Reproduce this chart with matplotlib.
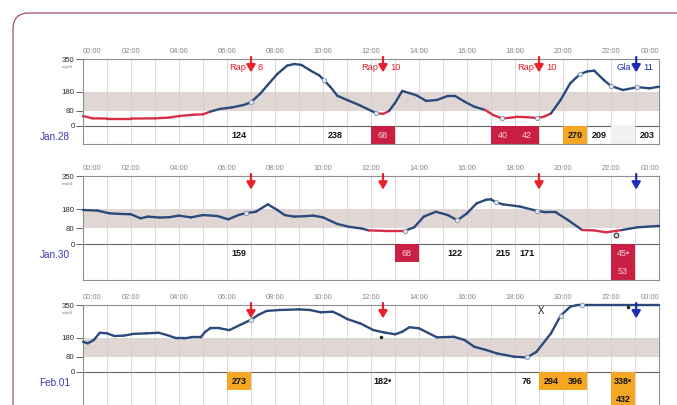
import matplotlib.pyplot as plt
import matplotlib.patches as mpatches
from matplotlib.collections import LineCollection
import numpy as np

plt.rcParams['font.family'] = ['Liberation Sans', 'DejaVu Sans']

W, H = 677, 405

# ---- sensor glucose traces (hour of day, mg/dL) ----
jan28_t = [0, 0.4, 1.0, 2.0, 3.0, 3.6, 4.0, 4.6, 5.0, 5.3, 5.7, 6.2, 6.7, 7.0, 7.4, 7.7,
           8.1, 8.5, 8.8, 9.1, 9.5, 9.85, 10.05, 10.3, 10.6, 11.0, 11.5, 12.2, 12.5, 12.75,
           13.0, 13.3, 13.6, 13.9, 14.3, 14.75, 15.2, 15.5, 15.9, 16.3, 16.75, 17.1, 17.45,
           17.8, 18.1, 18.5, 18.9, 19.2, 19.5, 19.9, 20.3, 20.7, 21.0, 21.3, 21.7, 22.0,
           22.5, 23.1, 23.6, 24.0]
jan28_bg = [52, 40, 39, 39, 40, 44, 52, 59, 61, 75, 89, 97, 110, 124, 171, 215,
            272, 315, 324, 319, 288, 264, 238, 205, 158, 136, 110, 68, 63, 78,
            120, 183, 172, 160, 131, 136, 157, 157, 127, 101, 84, 57, 40,
            43, 48, 46, 42, 48, 66, 136, 223, 270, 285, 289, 240, 209,
            188, 203, 197, 205]

jan30_t = [0, 0.6, 1.1, 1.5, 2.0, 2.4, 2.7, 3.2, 3.6, 4.0, 4.5, 5.0, 5.6, 6.05, 6.5, 6.8,
           7.2, 7.7, 8.1, 8.4, 8.8, 9.2, 9.6, 10.0, 10.6, 11.1, 11.6, 11.9, 12.5, 13.0,
           13.4, 13.8, 14.2, 14.7, 15.2, 15.6, 16.0, 16.4, 16.8, 17.0, 17.2, 17.5, 18.2,
           18.9, 19.3, 19.7, 20.2, 20.8, 21.3, 21.8, 22.45, 23.1, 24.0]
jan30_bg = [175, 172, 158, 155, 153, 132, 141, 136, 138, 146, 137, 149, 144, 127, 150, 159,
            166, 204, 175, 149, 141, 143, 146, 137, 103, 88, 80, 70, 68, 68,
            68, 86, 141, 166, 149, 122, 158, 209, 228, 230, 215, 204, 193,
            171, 163, 163, 124, 72, 70, 60, 72, 86, 93]

feb01_t = [0, 0.2, 0.45, 0.7, 1.0, 1.3, 1.7, 2.1, 2.65, 3.15, 3.5, 3.9, 4.2, 4.5, 4.9, 5.1,
           5.3, 5.7, 6.1, 6.55, 7.0, 7.3, 7.65, 8.2, 9.0, 9.45, 9.9, 10.4, 10.7, 11.0,
           11.55, 12.1, 12.6, 13.0, 13.3, 13.6, 14.0, 14.75, 15.45, 15.9, 16.3, 16.8,
           17.25, 17.95, 18.5, 18.9, 19.5, 19.9, 20.3, 20.6, 21.0, 22.0, 23.0, 24.0]
feb01_bg = [158, 150, 167, 205, 202, 188, 190, 199, 202, 205, 193, 176, 176, 181, 181, 211,
            228, 228, 219, 246, 273, 298, 319, 324, 327, 324, 312, 315, 298, 277,
            254, 219, 205, 197, 210, 234, 228, 181, 184, 167, 132, 115,
            97, 80, 76, 106, 202, 294, 341, 350, 350, 350, 350, 350]

# ---- meter readings shown as circles on the trace ----
jan28_smbg_t = [7.0, 10.05, 12.2, 17.45, 18.9, 20.7, 22.0, 23.1]
jan28_smbg_v = [124, 238, 68, 40, 42, 270, 209, 203]
jan30_smbg_t = [6.8, 13.4, 15.6, 17.2, 18.9]
jan30_smbg_v = [159, 68, 122, 215, 171]
feb01_smbg_t = [7.0, 18.5, 19.9, 20.8]
feb01_smbg_v = [273, 76, 294, 396]

# ---- table cells: (start hour, row, text, kind) ----
jan28_cells = [(6, 0, '124', ''), (10, 0, '238', ''), (12, 0, '68', 'low'),
               (17, 0, '40', 'low'), (18, 0, '42', 'low'), (20, 0, '270', 'high'),
               (21, 0, '209', ''), (22, 0, '', 'pale'), (23, 0, '203', '')]
jan30_cells = [(6, 0, '159', ''), (13, 0, '68', 'low'), (15, 0, '122', ''),
               (17, 0, '215', ''), (18, 0, '171', ''),
               (22, 0, '45\u2022', 'low'), (22, 1, '53', 'low')]
feb01_cells = [(6, 0, '273', 'high'), (12, 0, '182\u2022', ''), (18, 0, '76', ''),
               (19, 0, '294', 'high'), (20, 0, '396', 'high'),
               (22, 0, '338\u2022', 'high'), (22, 1, '432', 'high')]

# ---- insulin doses: (hour, drug, units) ----
jan28_doses = [(7.0, 'Rap', '8'), (12.5, 'Rap', '10'), (19.0, 'Rap', '10'), (23.05, 'Gla', '11')]
jan30_doses = [(7.0, 'Rap', ''), (12.5, 'Rap', ''), (19.0, 'Rap', ''), (23.05, 'Gla', '')]
feb01_doses = [(7.0, 'Rap', ''), (12.5, 'Rap', ''), (23.05, 'Gla', '')]

day_labels = ['Jan.28', 'Jan.30', 'Feb.01']
hour_labels = ['00:00', '02:00', '04:00', '06:00', '08:00', '10:00', '12:00',
               '14:00', '16:00', '18:00', '20:00', '22:00', '00:00']

BLUE = '#2b4a7c'
RED = '#d92e4a'
LOW_FILL = '#c91f45'
HIGH_FILL = '#f5a623'
BAND = '#e0d7d4'
GRID = '#d2d2d2'

fig = plt.figure(figsize=(W / 100, H / 100), dpi=100)


def px_rect(x0, y0, x1, y1):
    return [x0 / W, 1 - y1 / H, (x1 - x0) / W, (y1 - y0) / H]


# rounded frame around the page
frame = mpatches.FancyBboxPatch((13, -30), 720, H - 13 + 30,
                                boxstyle='round,pad=0,rounding_size=16',
                                fc='none', ec='#a34b7b', lw=0.9, transform=None)
fig.add_artist(frame)

panels = [
    (jan28_t, jan28_bg, jan28_smbg_t, jan28_smbg_v, jan28_cells, jan28_doses, 59, 126, 144, 1),
    (jan30_t, jan30_bg, jan30_smbg_t, jan30_smbg_v, jan30_cells, jan30_doses, 176, 244, 280, 2),
    (feb01_t, feb01_bg, feb01_smbg_t, feb01_smbg_v, feb01_cells, feb01_doses, 305, 372, 408, 2),
]
x_left, x_right = 83, 659

for i, (t, bg, st, sv, cells, doses, top, zero, bottom, nrows) in enumerate(panels):
    ax = fig.add_axes(px_rect(x_left, top, x_right, zero))
    ax.set_xlim(0, 24)
    ax.set_ylim(0, 350)
    ax.axhspan(80, 180, color=BAND, lw=0, zorder=0)
    ax.vlines(range(1, 24), 0, 350, color=GRID, lw=0.6, zorder=0.5)

    ax.xaxis.tick_top()
    ax.set_xticks(range(0, 25, 2))
    ax.set_xticklabels(hour_labels)
    ax.tick_params(axis='x', length=0, pad=3, labelsize=5.4, labelcolor='#858585')
    xl = ax.get_xticklabels()
    xl[0].set_ha('left')
    xl[-1].set_ha('right')
    ax.set_yticks([0, 80, 180, 350])
    ax.tick_params(axis='y', length=5, width=0.7, color='#666', pad=1,
                   labelsize=5.6, labelcolor='#2a2a2a')
    for s in ax.spines.values():
        s.set_color('#909090')
        s.set_linewidth(0.8)
    ax.spines['bottom'].set_color('#666')
    fig.text(68 / W, 1 - (top + 8) / H, 'mg/dL', fontsize=3.2, color='#888',
             ha='center', va='center')

    # trace: red where glucose is low
    bgv = np.minimum(np.array(bg, dtype=float), 350)
    pts = np.column_stack([t, bgv])
    segs = np.stack([pts[:-1], pts[1:]], axis=1)
    mid = (bgv[:-1] + bgv[1:]) / 2
    cols = [RED if m < 72 else BLUE for m in mid]
    lc = LineCollection(segs, colors=cols, linewidths=1.7, capstyle='round',
                        joinstyle='round', zorder=3, clip_on=False)
    ax.add_collection(lc)
    ax.plot(st, np.minimum(sv, 350), 'o', ms=3.2, mfc='#dfe8f0', mec='#8096ab',
            mew=0.6, zorder=4, clip_on=False)

    for h, drug, units in doses:
        c = '#1a2db8' if drug == 'Gla' else '#e8202a'
        ax.annotate('', xy=(h, 0.80), xycoords=('data', 'axes fraction'),
                    xytext=(h, 1.03), textcoords=('data', 'axes fraction'),
                    arrowprops=dict(arrowstyle='-|>,head_length=0.55,head_width=0.32',
                                    color=c, lw=1.6, shrinkA=0, shrinkB=0,
                                    mutation_scale=8),
                    annotation_clip=False, zorder=5)
        if units:
            ax.annotate(drug, xy=(h, 0.87), xycoords=('data', 'axes fraction'),
                        xytext=(-5, 0), textcoords='offset pixels', ha='right',
                        va='center', color=c, fontsize=6.7)
            ax.annotate(units, xy=(h, 0.87), xycoords=('data', 'axes fraction'),
                        xytext=(7, 0), textcoords='offset pixels', ha='left',
                        va='center', color=c, fontsize=6.7)

    if i == 1:
        ax.plot([22.2], [45], 'o', ms=3.4, mfc='#d8d8d8', mec='#333', mew=0.8, zorder=4)
    if i == 2:
        ax.plot([12.4, 22.7], [182, 338], '.', color='#222', ms=3, zorder=4)
        ax.text(19.1, 318, 'X', fontsize=7, ha='center', va='center', color='#222')

    # reading table under the trace
    tab = fig.add_axes(px_rect(x_left, zero, x_right, bottom))
    tab.set_xlim(0, 24)
    tab.set_ylim(nrows, 0)
    tab.vlines(range(1, 24), 0, nrows, color=GRID, lw=0.6, zorder=0.5)
    tab.set_xticks([])
    tab.set_yticks([])
    tab.patch.set_alpha(0)
    tab.spines['top'].set_visible(False)
    for s in ('left', 'right', 'bottom'):
        tab.spines[s].set_color('#909090')
        tab.spines[s].set_linewidth(0.8)
    fills = {'low': LOW_FILL, 'high': HIGH_FILL, 'pale': '#f1f1f1'}
    for slot, row, txt, kind in cells:
        if kind in fills:
            tab.add_patch(mpatches.Rectangle((slot, row), 1, 1, fc=fills[kind],
                                             lw=0, zorder=1))
        tc = '#f8d0d6' if kind == 'low' else '#111'
        tab.text(slot + 0.5, row + 0.55, txt, ha='center', va='center', fontsize=6.5,
                 fontweight='bold' if kind != 'low' else 'normal', color=tc, zorder=2)

    fig.text(55 / W, 1 - (zero + 11) / H, day_labels[i], color='#3b3bb3', fontsize=7.2,
             ha='center', va='center')

fig.savefig('out.png', dpi=100)
